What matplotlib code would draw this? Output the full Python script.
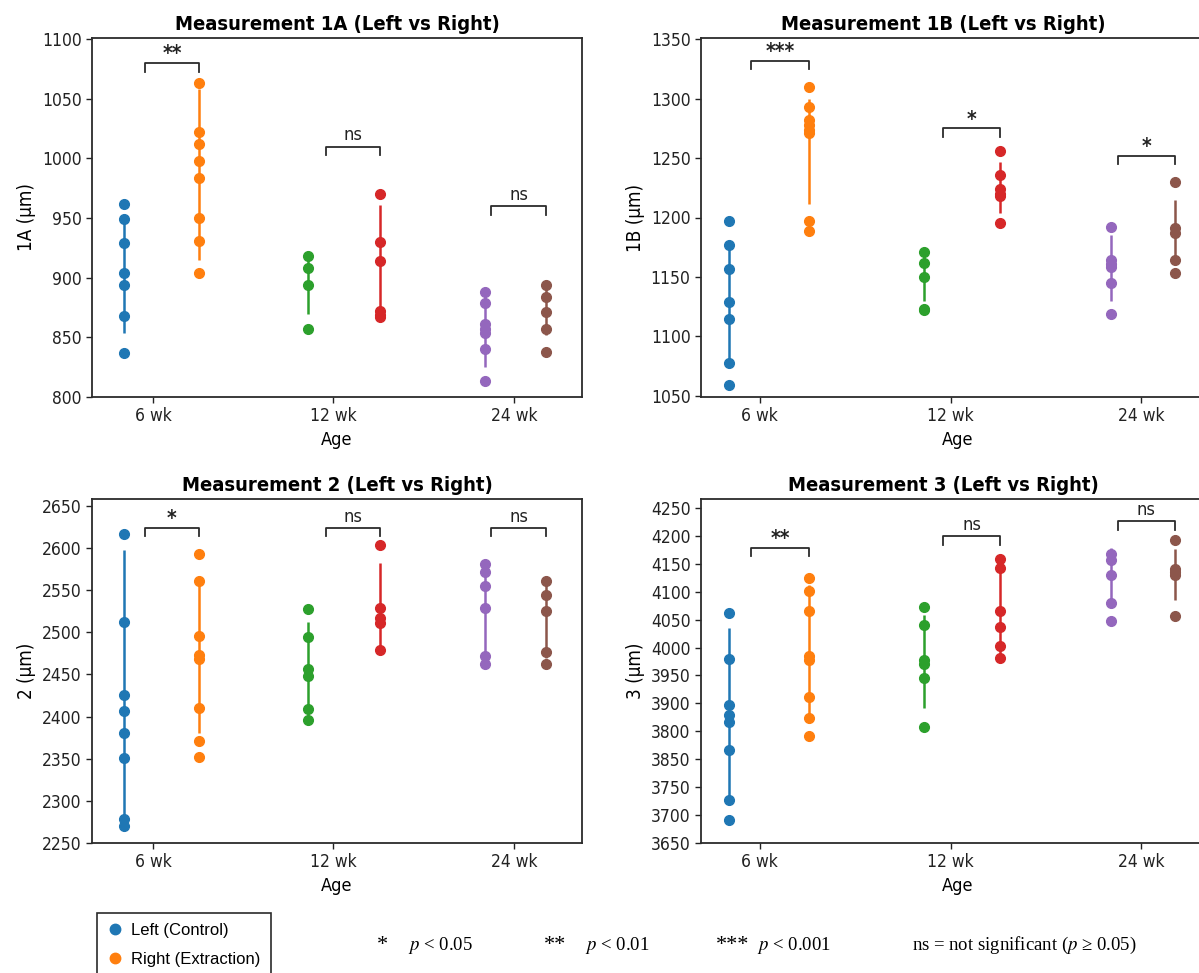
import matplotlib
matplotlib.use("Agg")
import matplotlib.pyplot as plt
from matplotlib.lines import Line2D
from matplotlib import font_manager

# ==========================
# Data
# ==========================
ages = ["6 wk", "12 wk", "24 wk"]

# Measurement 1A
m1a_left = [[962, 949, 929, 904, 894, 868, 837],
            [918, 908, 894, 857],
            [888, 879, 861, 857, 854, 840, 813]]
m1a_right = [[1063, 1022, 1012, 998, 984, 950, 931, 904],
             [970, 930, 914, 872, 869, 867],
             [894, 884, 871, 857, 838]]
m1a_left_bar = [(854, 952), (870, 915), (825, 885)]
m1a_right_bar = [(915, 1058), (867, 961), (852, 894)]
m1a_sig = ["**", "ns", "ns"]
m1a_sig_y = [1080, 1010, 960]

# Measurement 1B
m1b_left = [[1197, 1177, 1157, 1129, 1115, 1078, 1059],
            [1171, 1162, 1150, 1123, 1122],
            [1192, 1164, 1161, 1158, 1145, 1119]]
m1b_right = [[1310, 1293, 1282, 1278, 1274, 1271, 1197, 1189],
             [1256, 1236, 1224, 1220, 1218, 1195],
             [1230, 1191, 1187, 1164, 1153]]
m1b_left_bar = [(1080, 1180), (1130, 1170), (1130, 1185)]
m1b_right_bar = [(1211, 1300), (1204, 1247), (1165, 1215)]
m1b_sig = ["***", "*", "*"]
m1b_sig_y = [1332, 1275, 1252]

# Measurement 2
m2_left = [[2617, 2512, 2426, 2407, 2380, 2351, 2279, 2270],
           [2527, 2494, 2456, 2448, 2409, 2396],
           [2581, 2572, 2555, 2529, 2472, 2462]]
m2_right = [[2593, 2561, 2496, 2473, 2468, 2410, 2371, 2352],
            [2604, 2529, 2517, 2511, 2479],
            [2561, 2544, 2525, 2477, 2462]]
m2_left_bar = [(2280, 2598), (2405, 2512), (2470, 2578)]
m2_right_bar = [(2380, 2565), (2482, 2582), (2470, 2566)]
m2_sig = ["*", "ns", "ns"]
m2_sig_y = [2624, 2624, 2624]

# Measurement 3
m3_left = [[4062, 3979, 3898, 3879, 3866, 3816, 3727, 3692],
           [4073, 4040, 3977, 3970, 3945, 3858],
           [4168, 4157, 4130, 4080, 4047]]
m3_right = [[4124, 4102, 4065, 3984, 3978, 3912, 3873, 3842],
            [4158, 4142, 4065, 4037, 4003, 3982],
            [4193, 4141, 4135, 4130, 4056]]
m3_left_bar = [(3735, 4035), (3892, 4059), (4080, 4178)]
m3_right_bar = [(3865, 4112), (3990, 4150), (4085, 4176)]
m3_sig = ["**", "ns", "ns"]
m3_sig_y = [4179, 4199, 4226]

# y ticks (the Measurement 3 labels are kept as printed in the source)
m1a_ticks = list(range(800, 1101, 50))
m1b_ticks = list(range(1050, 1351, 50))
m2_ticks = list(range(2250, 2651, 50))
m3_ticks = list(range(3650, 4251, 50))
m3_tick_labels = ["3650", "3700", "3750", "3850", "3800", "3900", "3950",
                  "4000", "4050", "4100", "4150", "4200", "4250"]

# ==========================
# Style
# ==========================
left_colors = ["#1f77b4", "#2ca02c", "#9467bd"]
right_colors = ["#ff7f0e", "#d62728", "#8c564b"]
left_off = [-0.16, -0.14, -0.16]
right_off = [0.255, 0.26, 0.175]

names = {f.name for f in font_manager.fontManager.ttflist}
if "DejaVu Sans Condensed" in names:
    plt.rcParams["font.family"] = "DejaVu Sans Condensed"
else:
    plt.rcParams["font.family"] = "DejaVu Sans"
    plt.rcParams["font.stretch"] = "condensed"
plt.rcParams["mathtext.fontset"] = "stix"

edge = "#2b2b2b"

W, H = 1199, 973
fig = plt.figure(figsize=(W / 100, H / 100), dpi=100)


def px_rect(x0, x1, ytop, ybot):
    return [x0 / W, (H - ybot) / H, (x1 - x0) / W, (ybot - ytop) / H]


panels = [
    dict(rect=px_rect(92, 582, 38, 397), xlim=(-0.338, 2.377), ylim=(800, 1101),
         title="Measurement 1A (Left vs Right)", title_x=0.5, ylabel="1A (µm)",
         left=m1a_left, right=m1a_right, lbar=m1a_left_bar, rbar=m1a_right_bar,
         sig=m1a_sig, sig_y=m1a_sig_y, ticks=m1a_ticks, labels=None),
    dict(rect=px_rect(701, 1215, 38, 397), xlim=(-0.309, 2.386), ylim=(1049, 1351),
         title="Measurement 1B (Left vs Right)", title_x=0.471, ylabel="1B (µm)",
         left=m1b_left, right=m1b_right, lbar=m1b_left_bar, rbar=m1b_right_bar,
         sig=m1b_sig, sig_y=m1b_sig_y, ticks=m1b_ticks, labels=None),
    dict(rect=px_rect(92, 582, 499, 843), xlim=(-0.338, 2.377), ylim=(2250, 2658),
         title="Measurement 2 (Left vs Right)", title_x=0.5, ylabel="2 (µm)",
         left=m2_left, right=m2_right, lbar=m2_left_bar, rbar=m2_right_bar,
         sig=m2_sig, sig_y=m2_sig_y, ticks=m2_ticks, labels=None),
    dict(rect=px_rect(701, 1215, 499, 843), xlim=(-0.309, 2.386), ylim=(3650, 4266),
         title="Measurement 3 (Left vs Right)", title_x=0.471, ylabel="3 (µm)",
         left=m3_left, right=m3_right, lbar=m3_left_bar, rbar=m3_right_bar,
         sig=m3_sig, sig_y=m3_sig_y, ticks=m3_ticks, labels=m3_tick_labels),
]

# ==========================
# Draw panels
# ==========================
for p in panels:
    ax = fig.add_axes(p["rect"])
    for i in range(len(ages)):
        xl = i + left_off[i]
        xr = i + right_off[i]
        ax.vlines(xl, p["lbar"][i][0], p["lbar"][i][1], color=left_colors[i], lw=1.8, zorder=2)
        ax.vlines(xr, p["rbar"][i][0], p["rbar"][i][1], color=right_colors[i], lw=1.8, zorder=2)
        ax.plot([xl] * len(p["left"][i]), p["left"][i], "o", color=left_colors[i], ms=7, zorder=3)
        ax.plot([xr] * len(p["right"][i]), p["right"][i], "o", color=right_colors[i], ms=7, zorder=3)

        # significance bracket
        yr = p["ylim"][1] - p["ylim"][0]
        y = p["sig_y"][i]
        h = 0.024 * yr
        x1, x2 = xr - 0.3, xr
        ax.plot([x1, x1, x2, x2], [y - h, y, y, y - h], color=edge, lw=1.3, zorder=2)
        label = p["sig"][i]
        if label == "ns":
            ax.text((x1 + x2) / 2, y + 0.006 * yr, label, ha="center", va="bottom",
                    fontsize=13, color="#222222")
        else:
            ax.text((x1 + x2) / 2, y - 0.004 * yr, label, ha="center", va="bottom",
                    fontsize=15, fontweight="bold", color="#222222")

    ax.set_xlim(p["xlim"])
    ax.set_ylim(p["ylim"])
    ax.set_xticks(range(len(ages)))
    ax.set_xticklabels(ages)
    ax.set_yticks(p["ticks"])
    if p["labels"] is not None:
        ax.set_yticklabels(p["labels"])
    ax.tick_params(labelsize=12.5, colors="#222222", length=4, width=1)
    ax.set_xlabel("Age", fontsize=13, labelpad=4)
    ax.set_ylabel(p["ylabel"], fontsize=13.5)
    ax.set_title(p["title"], x=p["title_x"], fontsize=14.5, fontweight="bold")
    for s in ax.spines.values():
        s.set_color(edge)
        s.set_linewidth(1.3)

# ==========================
# Legend and significance key
# ==========================
handles = [
    Line2D([], [], marker="o", ls="none", color="#1f77b4", ms=7.5, label="Left (Control)"),
    Line2D([], [], marker="o", ls="none", color="#ff7f0e", ms=7.5, label="Right (Extraction)"),
]
leg = fig.legend(handles=handles, loc="upper left", bbox_to_anchor=(97 / W, 1 - 913 / H),
                 borderaxespad=0, fancybox=False, framealpha=1, edgecolor=edge,
                 handletextpad=0.45, handlelength=1.0, borderpad=0.6, labelspacing=0.85,
                 prop={"family": "Liberation Sans", "size": 12, "stretch": "normal"})
leg.get_frame().set_linewidth(1.2)

key_y = 1 - 945 / H
serif = {"family": "Liberation Serif", "stretch": "normal"}
fig.text(377 / W, key_y, "*", fontsize=16, va="center", fontdict=serif)
fig.text(408 / W, key_y, "$p$ < 0.05", fontsize=13.5, va="center", fontdict=serif)
fig.text(544 / W, key_y, "**", fontsize=16, va="center", fontdict=serif)
fig.text(585 / W, key_y, "$p$ < 0.01", fontsize=13.5, va="center", fontdict=serif)
fig.text(716 / W, key_y, "***", fontsize=16, va="center", fontdict=serif)
fig.text(757 / W, key_y, "$p$ < 0.001", fontsize=13.5, va="center", fontdict=serif)
fig.text(912 / W, key_y, "ns = not significant ($p$ ≥ 0.05)", fontsize=13.5, va="center",
         fontdict=serif)

fig.savefig("out.png", dpi=100)
